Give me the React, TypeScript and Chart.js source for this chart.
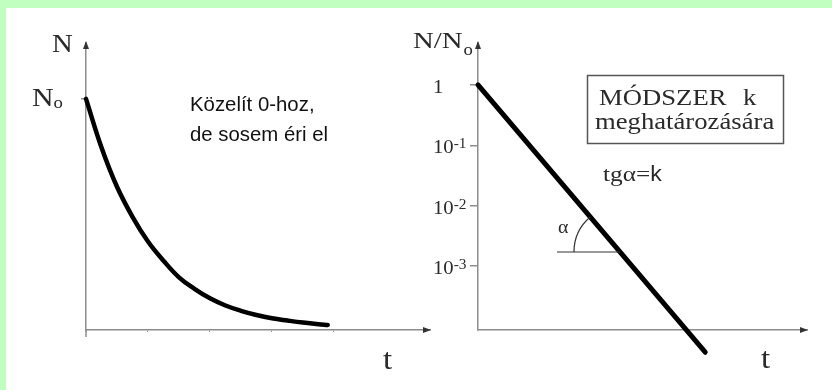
import React, { useEffect, useRef } from "react";
import { Chart, registerables } from "chart.js";

Chart.register(...registerables);

// Left panel: N(t) (N0 = 1)
const decayT = [0, 0.25, 0.5, 0.75, 1, 1.25, 1.5, 1.75, 2, 2.25, 2.5, 2.75, 3, 3.25, 3.5, 3.75, 3.9];
const decayN = [1, 0.79, 0.62, 0.49, 0.383, 0.3, 0.228, 0.178, 0.137, 0.106, 0.083, 0.065, 0.051, 0.041, 0.032, 0.025, 0.022];
const decayTimeTicks = [0, 1, 2, 3, 4];
const decayLevelTicks = [1];

// Right panel: N/N0 on a logarithmic axis, a straight line
const logT = [0, 3.66];
const logRatio = [1, 3.7e-5];
const logTicks = [1, 0.1, 0.01, 0.001];
const logTickBase = ["1", "10", "10", "10"];
const logTickSup = ["", "-1", "-2", "-3"];
const angleLevel = 0.0017;

const AXIS = "#8c8c8c";
const INK = "#2a2a2a";
const SERIF = "'Liberation Serif', 'Times New Roman', serif";
const SANS = "'Liberation Sans', Arial, sans-serif";

function txt(
  ctx: CanvasRenderingContext2D,
  s: string,
  x: number,
  y: number,
  font: string,
  color: string,
  sx = 1
): number {
  ctx.save();
  ctx.font = font;
  ctx.fillStyle = color;
  ctx.textBaseline = "alphabetic";
  ctx.textAlign = "left";
  ctx.translate(x, y);
  ctx.scale(sx, 1);
  ctx.fillText(s, 0, 0);
  const w = ctx.measureText(s).width * sx;
  ctx.restore();
  return w;
}

function arrows(ctx: CanvasRenderingContext2D, a: { left: number; top: number; right: number; bottom: number }) {
  ctx.save();
  ctx.fillStyle = "#333";
  // up arrow on the vertical axis
  ctx.beginPath();
  ctx.moveTo(a.left, a.top - 2);
  ctx.lineTo(a.left - 3, a.top + 6);
  ctx.lineTo(a.left + 3, a.top + 6);
  ctx.closePath();
  ctx.fill();
  // right arrow on the time axis
  ctx.beginPath();
  ctx.moveTo(a.right + 1, a.bottom);
  ctx.lineTo(a.right - 7, a.bottom - 3);
  ctx.lineTo(a.right - 7, a.bottom + 3);
  ctx.closePath();
  ctx.fill();
  ctx.restore();
}

const zeroW = (s: any) => {
  if (s.isHorizontal()) s.height = 0;
  else s.width = 0;
};

const decayLabels = {
  id: "decayLabels",
  afterDraw(chart: any) {
    const ctx: CanvasRenderingContext2D = chart.ctx;
    const a = chart.chartArea;
    const ys = chart.scales.y;
    arrows(ctx, a);
    // the vertical axis runs a little past the origin
    ctx.save();
    ctx.strokeStyle = AXIS;
    ctx.lineWidth = 1.5;
    ctx.beginPath();
    ctx.moveTo(a.left, a.bottom);
    ctx.lineTo(a.left, a.bottom + 7);
    ctx.stroke();
    ctx.restore();

    txt(ctx, "N", a.left - 34, a.top + 9, `25px ${SERIF}`, INK, 1.15);
    const y0 = ys.getPixelForValue(decayLevelTicks[0]);
    const wN = txt(ctx, "N", a.left - 54, y0 + 7, `26px ${SERIF}`, INK, 1.15);
    txt(ctx, "o", a.left - 54 + wN, y0 + 9, `17px ${SERIF}`, INK, 1.1);
    txt(ctx, "t", a.right - 47, a.bottom + 39, `30px ${SERIF}`, INK, 1.1);

    txt(ctx, "Közelít 0-hoz,", 190, 111, `21px ${SANS}`, "#111", 0.97);
    txt(ctx, "de sosem éri el", 190, 141, `21px ${SANS}`, "#111", 0.97);
  },
};

const logLabels = {
  id: "logLabels",
  afterDraw(chart: any) {
    const ctx: CanvasRenderingContext2D = chart.ctx;
    const a = chart.chartArea;
    const ys = chart.scales.y;
    arrows(ctx, a);

    const wNN = txt(ctx, "N/N", a.left - 65, a.top + 5, `24px ${SERIF}`, INK, 1.2);
    txt(ctx, "o", a.left - 65 + wNN + 1, a.top + 12, `17px ${SERIF}`, INK, 1.1);

    logTicks.forEach((v, i) => {
      const y = ys.getPixelForValue(v);
      const w = txt(ctx, logTickBase[i], a.left - 45, y + 8, `18px ${SERIF}`, INK, 1.15);
      if (logTickSup[i]) txt(ctx, logTickSup[i], a.left - 45 + w, y + 3, `14px ${SERIF}`, INK, 1.1);
    });

    txt(ctx, "t", a.right - 46, a.bottom + 38, `30px ${SERIF}`, INK, 1.1);

    // method box
    ctx.save();
    ctx.strokeStyle = "#555";
    ctx.lineWidth = 1.5;
    ctx.strokeRect(587.5, 75.5, 196, 68);
    ctx.restore();
    txt(ctx, "MÓDSZER", 599, 105, `23px ${SERIF}`, INK, 1.16);
    txt(ctx, "k", 743, 105, `23px ${SERIF}`, INK, 1.16);
    txt(ctx, "meghatározására", 595, 129, `23px ${SERIF}`, INK, 1.16);

    const wT = txt(ctx, "tgα=", 603, 181, `22px ${SERIF}`, INK, 1.15);
    txt(ctx, "k", 603 + wT, 181, `22px ${SANS}`, INK, 1.05);

    // slope angle α
    const pts = chart.getDatasetMeta(0).data;
    const p0 = pts[0];
    const p1 = pts[1];
    const yA = ys.getPixelForValue(angleLevel);
    const f = (yA - p0.y) / (p1.y - p0.y);
    const xA = p0.x + f * (p1.x - p0.x);
    const ang = Math.atan2(p0.y - p1.y, p0.x - p1.x) + 2 * Math.PI;
    ctx.save();
    ctx.strokeStyle = "#333";
    ctx.lineWidth = 1.2;
    ctx.beginPath();
    ctx.moveTo(xA - 63, yA);
    ctx.lineTo(xA, yA);
    ctx.stroke();
    ctx.beginPath();
    ctx.arc(xA, yA, 46, Math.PI, ang, false);
    ctx.stroke();
    ctx.restore();
    txt(ctx, "α", xA - 62, yA - 19, `18px ${SERIF}`, INK, 1.1);
  },
};

export default function App() {
  const leftRef = useRef<HTMLCanvasElement | null>(null);
  const rightRef = useRef<HTMLCanvasElement | null>(null);

  useEffect(() => {
    const common = {
      responsive: false,
      maintainAspectRatio: false,
      animation: false as const,
      devicePixelRatio: 1,
      events: [] as any[],
      plugins: { legend: { display: false }, tooltip: { enabled: false } },
    };

    const left = new Chart(leftRef.current!, {
      type: "line",
      data: {
        datasets: [
          {
            data: decayT.map((t, i) => ({ x: t, y: decayN[i] })),
            borderColor: "#000",
            borderWidth: 4.5,
            borderCapStyle: "round",
            borderJoinStyle: "round",
            tension: 0.4,
            pointRadius: 0,
            fill: false,
            clip: false as any,
          },
        ],
      },
      options: {
        ...common,
        layout: { autoPadding: false, padding: { left: 86, top: 43, right: 832 - 430, bottom: 390 - 330 } },
        scales: {
          x: {
            type: "linear",
            min: 0,
            max: 5.55,
            afterFit: zeroW,
            afterBuildTicks: (s: any) => {
              s.ticks = decayTimeTicks.map((v) => ({ value: v }));
            },
            ticks: { display: false },
            grid: { drawOnChartArea: false, tickLength: 2, color: "#9a9a9a", lineWidth: 1 },
            border: { display: true, color: AXIS, width: 1.5 },
          },
          y: {
            type: "linear",
            min: 0,
            max: 1.242,
            afterFit: zeroW,
            afterBuildTicks: (s: any) => {
              s.ticks = decayLevelTicks.map((v) => ({ value: v }));
            },
            ticks: { display: false },
            grid: { drawOnChartArea: false, tickLength: 5, color: AXIS, lineWidth: 1.5 },
            border: { display: true, color: AXIS, width: 1.5 },
          },
        },
      } as any,
      plugins: [decayLabels],
    });

    const right = new Chart(rightRef.current!, {
      type: "line",
      data: {
        datasets: [
          {
            data: logT.map((t, i) => ({ x: t, y: logRatio[i] })),
            borderColor: "#000",
            borderWidth: 5,
            borderCapStyle: "round",
            pointRadius: 0,
            fill: false,
            clip: false as any,
          },
        ],
      },
      options: {
        ...common,
        layout: { autoPadding: false, padding: { left: 478, top: 43, right: 832 - 807, bottom: 390 - 330 } },
        scales: {
          x: {
            type: "linear",
            min: 0,
            max: 5.3,
            afterFit: zeroW,
            ticks: { display: false },
            grid: { drawOnChartArea: false, drawTicks: false },
            border: { display: true, color: AXIS, width: 1.5 },
          },
          y: {
            type: "logarithmic",
            min: 8.65e-5,
            max: 4.97,
            afterFit: zeroW,
            afterBuildTicks: (s: any) => {
              s.ticks = logTicks.map((v) => ({ value: v }));
            },
            ticks: { display: false },
            grid: { drawOnChartArea: false, tickLength: 8, color: AXIS, lineWidth: 1.5 },
            border: { display: true, color: AXIS, width: 1.5 },
          },
        },
      } as any,
      plugins: [logLabels],
    });

    return () => {
      left.destroy();
      right.destroy();
    };
  }, []);

  return (
    <div
      style={{
        position: "fixed",
        left: 0,
        top: 0,
        width: 832,
        height: 390,
        background: "#fff",
        overflow: "hidden",
      }}
    >
      <div style={{ position: "absolute", left: 0, top: 0, width: 832, height: 8, background: "#c0ffc0" }} />
      <div style={{ position: "absolute", left: 0, top: 0, width: 6, height: 390, background: "#c0ffc0" }} />
      <canvas ref={leftRef} width={832} height={390} style={{ position: "absolute", left: 0, top: 0 }} />
      <canvas ref={rightRef} width={832} height={390} style={{ position: "absolute", left: 0, top: 0 }} />
    </div>
  );
}
